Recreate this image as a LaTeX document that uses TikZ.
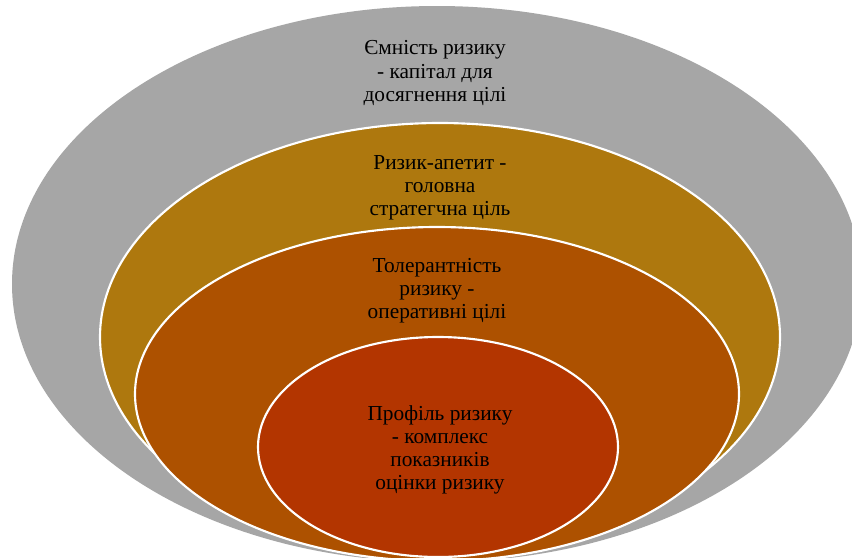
\documentclass[tikz,border=0pt]{standalone}
\usepackage{fontspec}
\setmainfont{Liberation Serif}
\newfontfamily\capfont{Liberation Serif}
\usetikzlibrary{shapes.geometric}
\definecolor{ringgray}{HTML}{A6A6A6}
\definecolor{ringgold}{HTML}{AE780E}
\definecolor{ringorange}{HTML}{AD5100}
\definecolor{ringred}{HTML}{B33500}
\tikzset{
  ring/.style={ellipse, inner sep=0pt, draw=white, line width=1.6pt},
  captext/.style={align=center, font=\capfont\fontsize{16}{17.3}\selectfont, text=black, inner sep=0pt}
}
\begin{document}
\begin{tikzpicture}[x=0.75pt,y=-0.75pt]
  \clip (0,0) rectangle (852,557);
  \fill[white] (0,0) rectangle (852,557);
  % nested rings, outermost first
  \node[ring, draw=none, fill=ringgray, minimum width=850*0.75pt, minimum height=556*0.75pt] (capacity) at (437,284) {};
  \node[ring, fill=ringgold, minimum width=680*0.75pt, minimum height=428*0.75pt] (appetite) at (440,337) {};
  \node[ring, fill=ringorange, minimum width=604*0.75pt, minimum height=334*0.75pt] (tolerance) at (437,394) {};
  \node[ring, fill=ringred, minimum width=360*0.75pt, minimum height=220*0.75pt] (profile) at (438,447) {};
  % captions
  \node[captext] (tcap) at (435,73) {Ємність ризику\\- капітал для\\досягнення цілі};
  \node[captext] (tapp) at (440,188) {Ризик-апетит -\\головна\\стратегчна ціль};
  \node[captext] (ttol) at (437,291) {Толерантність\\ризику -\\оперативні цілі};
  \node[captext] (tpro) at (440,450) {Профіль ризику\\- комплекс\\показників\\оцінки ризику};
\end{tikzpicture}
\end{document}
